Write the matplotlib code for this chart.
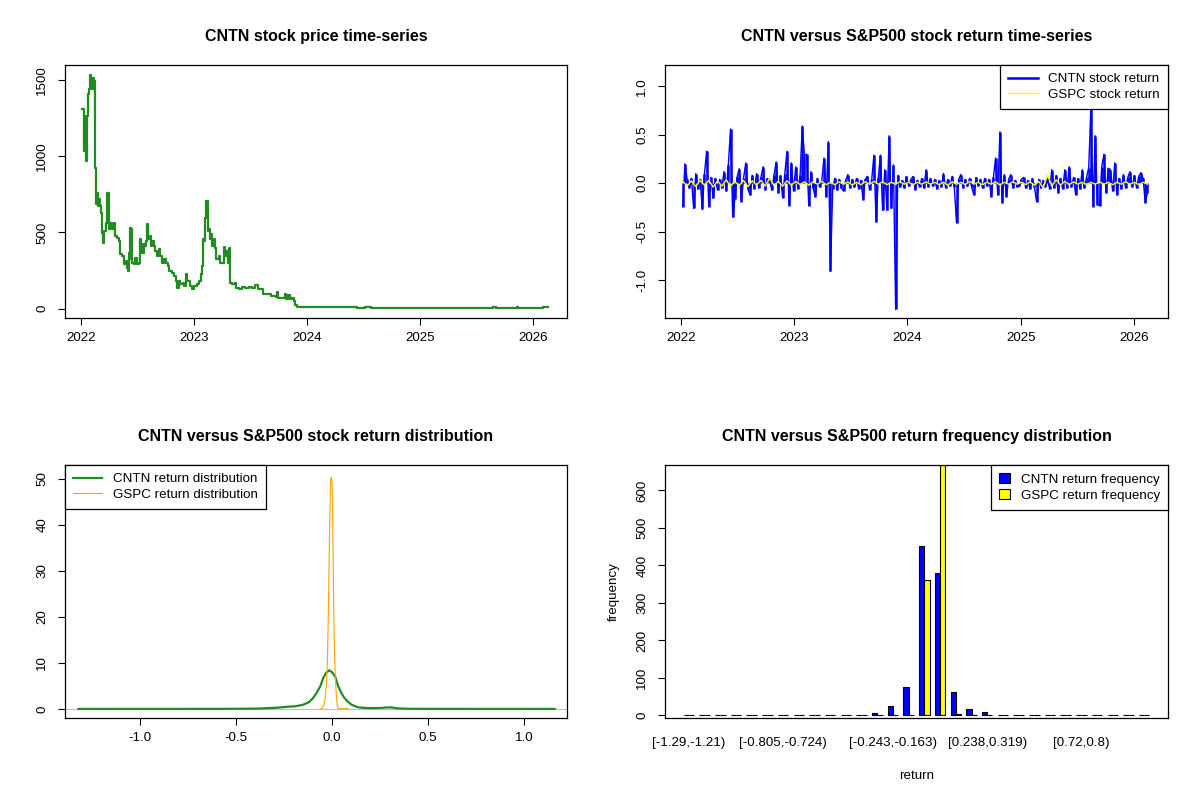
import numpy as np
import pandas as pd
import matplotlib
matplotlib.use("Agg")
import matplotlib.pyplot as plt
from matplotlib.ticker import FormatStrFormatter
from matplotlib.patches import Patch
from matplotlib.lines import Line2D

plt.rcParams['font.family'] = ['Liberation Sans', 'DejaVu Sans']

# ---- CNTN price (decimal year, close) ----
price_year = [2022.012, 2022.024, 2022.027, 2022.035, 2022.044, 2022.053, 2022.059, 2022.068,
              2022.077, 2022.083, 2022.092, 2022.100, 2022.109, 2022.118, 2022.121, 2022.124,
              2022.130, 2022.139, 2022.148, 2022.157, 2022.168, 2022.177, 2022.186, 2022.195,
              2022.201, 2022.216, 2022.225, 2022.230, 2022.242, 2022.248, 2022.260, 2022.275,
              2022.290, 2022.298, 2022.319, 2022.334, 2022.343, 2022.349, 2022.363, 2022.378,
              2022.384, 2022.399, 2022.408, 2022.417, 2022.422, 2022.431, 2022.437, 2022.446,
              2022.452, 2022.467, 2022.482, 2022.496, 2022.511, 2022.520, 2022.532, 2022.544,
              2022.555, 2022.570, 2022.579, 2022.588, 2022.596, 2022.608, 2022.620, 2022.632,
              2022.644, 2022.656, 2022.674, 2022.691, 2022.703, 2022.718, 2022.733, 2022.750,
              2022.768, 2022.783, 2022.807, 2022.827, 2022.842, 2022.851, 2022.866, 2022.880,
              2022.901, 2022.916, 2022.931, 2022.939, 2022.954, 2022.969, 2022.987, 2023.004,
              2023.028, 2023.049, 2023.061, 2023.069, 2023.078, 2023.087, 2023.096, 2023.105,
              2023.119, 2023.125, 2023.134, 2023.143, 2023.152, 2023.164, 2023.175, 2023.187,
              2023.196, 2023.211, 2023.223, 2023.235, 2023.258, 2023.267, 2023.279, 2023.288,
              2023.300, 2023.308, 2023.317, 2023.320, 2023.338, 2023.359, 2023.376, 2023.400,
              2023.426, 2023.456, 2023.486, 2023.515, 2023.542, 2023.565, 2023.589, 2023.610,
              2023.648, 2023.678, 2023.702, 2023.722, 2023.731, 2023.743, 2023.767, 2023.790,
              2023.802, 2023.811, 2023.829, 2023.846, 2023.864, 2023.885, 2023.896, 2023.914,
              2024.180, 2024.431, 2024.446, 2024.490, 2024.511, 2024.549, 2024.564, 2025.066,
              2025.642, 2025.648, 2025.672, 2025.849, 2025.855, 2025.864, 2026.071, 2026.086,
              2026.136]
price_value = [1308, 1308, 1034, 1264, 969, 1264, 1406, 1439,
               1516, 1537, 1505, 1439, 1516, 1494, 1428, 925,
               685, 761, 674, 717, 674, 630, 499, 433,
               510, 510, 564, 761, 761, 521, 564, 521,
               564, 477, 466, 444, 433, 356, 346, 324,
               291, 313, 269, 247, 367, 324, 531, 521,
               302, 291, 335, 291, 302, 455, 422, 367,
               422, 411, 444, 558, 455, 477, 411, 444,
               411, 378, 346, 389, 346, 302, 324, 302,
               280, 247, 236, 214, 181, 138, 181, 160,
               171, 149, 225, 181, 181, 149, 127, 149,
               160, 181, 225, 280, 455, 444, 597, 706,
               706, 510, 521, 455, 488, 411, 455, 400,
               324, 324, 346, 302, 302, 405, 346, 378,
               302, 400, 400, 171, 160, 166, 138, 131,
               142, 138, 142, 138, 153, 131, 127, 98,
               98, 83, 83, 79, 109, 72, 72, 72,
               98, 66, 87, 66, 72, 50, 22, 13,
               11, 11, 2, 4, 11, 11, 4, 4,
               4, 11, 4, 4, 11, 4, 4, 9,
               10]

# ---- weekly CNTN returns (from 2022-01-07) ----
cntn_ret = [-0.24, 0.20, 0.04, -0.05, 0.05, -0.26, 0.10, -0.06, 0.04, -0.27,
            0.10, 0.33, -0.24, 0.06, -0.155, 0.05, -0.07, 0.04, -0.05, 0.12,
            -0.08, 0.19, 0.56, -0.35, -0.16, 0.06, 0.15, -0.19, 0.05, 0.21,
            -0.06, -0.12, 0.08, -0.06, 0.10, -0.05, 0.06, 0.17, -0.07, 0.05,
            0.03, -0.07, 0.08, 0.22, -0.10, 0.08, -0.15, 0.10, 0.33, -0.23,
            0.21, -0.08, 0.17, -0.06, 0.08, 0.59, 0.29, 0.30, -0.23, 0.12,
            -0.05, -0.14, 0.05, -0.04, 0.03, 0.26, -0.14, 0.43, -0.91, -0.06,
            0.05, -0.07, 0.04, -0.05, -0.08, 0.03, 0.09, -0.05, 0.04, -0.04,
            0.05, -0.06, 0.03, -0.17, 0.04, 0.07, -0.07, 0.04, 0.29, -0.40,
            0.05, 0.29, -0.28, 0.14, -0.28, 0.49, -0.26, 0.19, -1.30, 0.08,
            -0.04, 0.03, -0.05, 0.07, -0.03, 0.04, 0.07, -0.07, 0.03, -0.04,
            0.05, -0.05, 0.14, -0.04, 0.05, -0.03, 0.04, -0.06, 0.03, -0.04,
            0.10, -0.05, 0.04, -0.03, 0.07, -0.04, -0.41, 0.04, 0.09, -0.05,
            0.04, -0.03, 0.05, -0.04, -0.12, 0.06, -0.03, 0.04, -0.05, 0.05,
            -0.03, 0.04, -0.14, 0.06, 0.26, -0.12, 0.53, -0.20, 0.09, -0.14,
            0.04, 0.09, -0.05, 0.03, -0.04, -0.03, 0.04, 0.06, -0.05, 0.03,
            -0.06, 0.05, -0.04, -0.19, 0.04, -0.05, 0.03, -0.04, 0.05, -0.06,
            0.14, -0.05, 0.08, -0.10, 0.05, -0.06, 0.14, -0.05, 0.17, -0.04,
            0.06, -0.12, 0.05, -0.06, 0.14, -0.05, 0.06, 0.16, 0.78, -0.24,
            0.49, -0.22, -0.23, 0.17, 0.30, -0.10, 0.155, 0.14, -0.08, 0.21,
            -0.12, 0.05, -0.06, 0.09, -0.05, 0.06, 0.12, -0.04, 0.08, -0.05,
            0.07, 0.11, 0.05, -0.20, -0.10]

# ---- bi-weekly GSPC returns (from 2022-01-07) ----
gspc_ret = [0.02, -0.03, 0.025, -0.035, 0.03, -0.02, 0.03, -0.04, 0.025, -0.03, 0.035, -0.03, 0.02,
            -0.025, 0.03, -0.035, 0.025, -0.02, 0.03, -0.03, 0.055, -0.025, 0.02, -0.03, 0.025, -0.02,
            0.02, -0.015, 0.015, -0.02, 0.015, -0.01, 0.02, -0.015, 0.01, -0.015, 0.015, -0.01, 0.015,
            -0.02, 0.01, -0.015, 0.015, -0.01, 0.02, -0.01, 0.015, -0.015, 0.01, -0.01, 0.015, -0.01,
            0.01, -0.015, 0.01, -0.01, 0.015, -0.01, 0.01, -0.015, 0.01, -0.02, 0.015, -0.01, 0.01,
            -0.015, 0.02, -0.01, 0.01, -0.015, 0.01, -0.01, 0.015, -0.02, 0.01, -0.01, 0.015, -0.01,
            0.01, -0.015, 0.015, -0.02, 0.02, -0.05, 0.09, -0.03, 0.035, -0.02, 0.02, -0.015, 0.015,
            -0.01, 0.01, -0.015, 0.01, -0.01, 0.015, -0.01, 0.01, -0.015, 0.01, -0.01, 0.015, -0.01,
            0.01, -0.015, 0.01, -0.01]

# ---- kernel density curves ----
cntn_dens_x = [-1.32, -0.60, -0.40, -0.30, -0.27, -0.23, -0.19, -0.15, -0.12, -0.10, -0.08,
               -0.06, -0.045, -0.03, -0.014, 0.0, 0.016, 0.033, 0.05, 0.065, 0.08, 0.10,
               0.12, 0.14, 0.17, 0.20, 0.25, 0.29, 0.31, 0.34, 0.40, 0.60, 1.16]
cntn_dens_y = [0.02, 0.03, 0.08, 0.25, 0.35, 0.5, 0.6, 0.93, 1.5, 2.3, 3.5,
               5.0, 6.8, 7.9, 8.4, 8.0, 7.1, 4.9, 3.4, 2.4, 1.7, 1.0,
               0.6, 0.35, 0.25, 0.2, 0.22, 0.35, 0.35, 0.15, 0.05, 0.03, 0.02]
gspc_dens_x = [-0.0625, -0.05, -0.042, -0.036, -0.031, -0.027, -0.024, -0.02, -0.017, -0.014,
               -0.011, -0.0068, -0.003, 0.0, 0.003, 0.005, 0.008, 0.01, 0.013, 0.016,
               0.021, 0.025, 0.028, 0.034, 0.04, 0.05, 0.06, 0.07, 0.08, 0.09]
gspc_dens_y = [0.0, 0.2, 0.9, 2.2, 4.2, 7.0, 10.3, 18, 26, 34.6,
               42, 49.8, 50.3, 49.5, 44, 36, 27, 19.4, 13, 8.5,
               4.2, 2.0, 0.6, 0.2, 0.0, 0.2, 0.0, 0.2, 0.0, 0.0]

# ---- return frequency table ----
bin_edges = ["-1.29", "-1.21", "-1.13", "-1.05", "-0.965", "-0.885", "-0.805", "-0.724",
             "-0.644", "-0.564", "-0.484", "-0.403", "-0.323", "-0.243", "-0.163", "-0.0824",
             "-0.00209", "0.0782", "0.158", "0.238", "0.319", "0.399", "0.479", "0.559",
             "0.64", "0.72", "0.8", "0.88", "0.961", "1.04", "1.12"]
cntn_freq = [2, 0, 0, 0, 2, 0, 0, 0, 0, 0, 2, 2, 6, 24, 75,
             452, 380, 63, 16, 8, 2, 2, 2, 2, 0, 0, 0, 0, 0, 0]
gspc_freq = [0, 0, 0, 0, 0, 0, 0, 0, 0, 0, 0, 0, 0, 0, 0,
             362, 668, 3, 0, 0, 0, 0, 0, 0, 0, 0, 0, 0, 0, 0]
shown_bins = [0, 6, 13, 19, 25]

bin_labels = ["[%s,%s)" % (a, b) for a, b in zip(bin_edges[:-1], bin_edges[1:])]
bin_labels[-1] = bin_labels[-1][:-1] + "]"


def dec_year(idx):
    return np.asarray(idx.year + (idx.dayofyear - 1) / 365.25, dtype=float)


cntn_year = dec_year(pd.date_range("2022-01-07", periods=len(cntn_ret), freq="7D"))
gspc_year = dec_year(pd.date_range("2022-01-07", periods=len(gspc_ret), freq="14D"))

GREEN = "#228B22"
TITLE_KW = dict(fontsize=11.5, fontweight="bold", pad=17)
TICK_FS = 9.6


def r_style(ax):
    for s in ax.spines.values():
        s.set_linewidth(0.9)
    ax.tick_params(direction="out", length=5, width=0.8, labelsize=TICK_FS)
    ax.tick_params(axis="x", pad=5)
    ax.tick_params(axis="y", pad=7)
    for lab in ax.get_yticklabels():
        lab.set_rotation(90)
        lab.set_va("center")


fig = plt.figure(figsize=(12, 8), dpi=100)
ax1 = fig.add_axes([0.0542, 0.6025, 0.4183, 0.3163])
ax2 = fig.add_axes([0.5542, 0.6025, 0.4192, 0.3163])
ax3 = fig.add_axes([0.0542, 0.1025, 0.4183, 0.3163])
ax4 = fig.add_axes([0.5542, 0.1025, 0.4192, 0.3163])

# panel 1: price
ax1.plot(price_year, price_value, color=GREEN, lw=1.6, drawstyle="steps-post")
ax1.set_xlim(2021.86, 2026.30)
ax1.set_ylim(-62, 1600)
ax1.set_xticks([2022, 2023, 2024, 2025, 2026])
ax1.set_yticks([0, 500, 1000, 1500])
ax1.set_title("CNTN stock price time-series", **TITLE_KW)
r_style(ax1)

# panel 2: returns (dense daily line looks like spikes around zero)
ax2.vlines(cntn_year, 0, cntn_ret, color="blue", lw=1.8)
ax2.plot(cntn_year, cntn_ret, color="blue", lw=1.0)
ax2.plot(gspc_year, gspc_ret, color="yellow", lw=1.0)
ax2.set_xlim(2021.86, 2026.30)
ax2.set_ylim(-1.39, 1.22)
ax2.set_xticks([2022, 2023, 2024, 2025, 2026])
ax2.set_yticks([-1.0, -0.5, 0.0, 0.5, 1.0])
ax2.yaxis.set_major_formatter(FormatStrFormatter("%.1f"))
ax2.set_title("CNTN versus S&P500 stock return time-series", **TITLE_KW)
leg = ax2.legend(handles=[Line2D([], [], color="blue", lw=1.8),
                          Line2D([], [], color="yellow", lw=1.0)],
                 labels=["CNTN stock return", "GSPC stock return"],
                 loc="upper right", fontsize=TICK_FS, fancybox=False, framealpha=1,
                 edgecolor="black", borderaxespad=0, handlelength=2.2,
                 borderpad=0.6, labelspacing=0.25)
leg.get_frame().set_linewidth(0.9)
r_style(ax2)

# panel 3: densities
ax3.axhline(0, color="#BEBEBE", lw=0.8, zorder=1)
ax3.plot(cntn_dens_x, cntn_dens_y, color=GREEN, lw=1.6, zorder=2)
ax3.plot(gspc_dens_x, gspc_dens_y, color="orange", lw=0.8, zorder=3)
ax3.set_xlim(-1.39, 1.224)
ax3.set_ylim(-1.95, 53.0)
ax3.set_xticks([-1.0, -0.5, 0.0, 0.5, 1.0])
ax3.xaxis.set_major_formatter(FormatStrFormatter("%.1f"))
ax3.set_yticks([0, 10, 20, 30, 40, 50])
ax3.set_title("CNTN versus S&P500 stock return distribution", **TITLE_KW)
leg = ax3.legend(handles=[Line2D([], [], color=GREEN, lw=1.6),
                          Line2D([], [], color="orange", lw=0.8)],
                 labels=["CNTN return distribution", "GSPC return distribution"],
                 loc="upper left", fontsize=TICK_FS, fancybox=False, framealpha=1,
                 edgecolor="black", borderaxespad=0, handlelength=2.2,
                 borderpad=0.6, labelspacing=0.25)
leg.get_frame().set_linewidth(0.9)
r_style(ax3)

# panel 4: grouped frequency bars
grp = np.arange(len(cntn_freq)) * 3
ax4.bar(grp + 1.5, cntn_freq, width=1, color="blue", edgecolor="black", lw=0.8)
ax4.bar(grp + 2.5, gspc_freq, width=1, color="yellow", edgecolor="black", lw=0.8)
ymax = max(gspc_freq)
ax4.set_xlim(1 - 0.04 * 89, 90 + 0.04 * 89)
ax4.set_ylim(-0.01 * ymax, ymax)
ax4.set_yticks([0, 100, 200, 300, 400, 500, 600])
ax4.set_xticks(grp[shown_bins] + 2)
ax4.set_xticklabels([bin_labels[i] for i in shown_bins])
ax4.set_title("CNTN versus S&P500 return frequency distribution", **TITLE_KW)
ax4.set_xlabel("return", fontsize=TICK_FS, labelpad=15)
ax4.set_ylabel("frequency", fontsize=TICK_FS, labelpad=12)
leg = ax4.legend(handles=[Patch(facecolor="blue", edgecolor="black", lw=0.8),
                          Patch(facecolor="yellow", edgecolor="black", lw=0.8)],
                 labels=["CNTN return frequency", "GSPC return frequency"],
                 loc="upper right", fontsize=TICK_FS, fancybox=False, framealpha=1,
                 edgecolor="black", borderaxespad=0, handlelength=0.8, handleheight=0.8,
                 borderpad=0.6, labelspacing=0.25)
leg.get_frame().set_linewidth(0.9)
r_style(ax4)
ax4.tick_params(axis="x", length=0, pad=14)

fig.savefig("out.png", dpi=100)
